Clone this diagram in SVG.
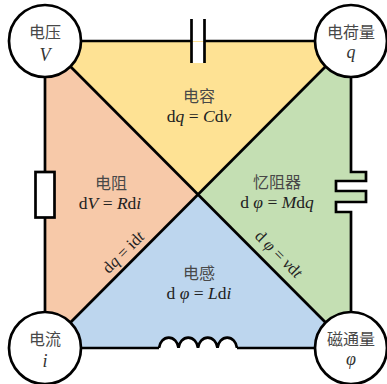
<svg xmlns="http://www.w3.org/2000/svg" width="387" height="384" viewBox="0 0 387 384">
<style>
.l{fill:none;stroke:#000;stroke-width:2.7;stroke-linejoin:miter}
.n{fill:#fff;stroke:#000;stroke-width:2.7}
.c{font-family:"Noto Sans CJK SC",sans-serif;font-size:16px;fill:#484848;text-anchor:middle}
.m{font-family:"Liberation Serif",serif;font-size:17.5px;fill:#222;text-anchor:middle}
.d{font-size:16.5px}
.s{font-size:18px;fill:#333}
.i{font-style:italic}
</style>
<rect width="387" height="384" fill="#fff"/>
<g id="regions">
<polygon points="45,41 351,41 198,195" fill="#fee294"/>
<polygon points="45,41 198,195 45,348" fill="#f7c9a9"/>
<polygon points="45,348 198,195 351,348" fill="#bdd6ee"/>
<polygon points="351,41 351,172 366,172 366,181 336,181 336,191 366,191 366,202 336,202 336,212 351,212 351,348 198,195" fill="#c4dfb3"/>
<rect x="191.500" y="42" width="13" height="21" fill="#fff"/>
</g>
<g id="connectors">
<path class="l" d="M45,41H191.500M191.500,19V63M204.500,19V63M204.500,41H351"/>
<path class="l" d="M45,41V348"/>
<path class="l" d="M351,41V172H366V181H336V191H366V202H336V212H351V348"/>
<path class="l" d="M45,348H159"/>
<path class="l" d="M237,348H351"/>
<path class="l" style="fill:#fff" d="M159,348a9.800,11.500 0 0 1 19.500,0a9.800,11.500 0 0 1 19.500,0a9.800,11.500 0 0 1 19.500,0a9.800,11.500 0 0 1 19.500,0"/>
<line class="l" x1="45" y1="41" x2="351" y2="348"/>
<line class="l" x1="351" y1="41" x2="45" y2="348"/>
</g>
<g id="resistor"><rect class="n" x="35.500" y="172" width="19" height="45.500"/></g>
<g id="node-v"><circle class="n" cx="45" cy="41" r="36"/><text class="c" x="45" y="38">电压</text><text class="m i s" x="45" y="61">V</text></g>
<g id="node-q"><circle class="n" cx="351" cy="41" r="36"/><text class="c" x="351" y="38">电荷量</text><text class="m i s" x="351" y="58">q</text></g>
<g id="node-i"><circle class="n" cx="45" cy="348" r="36"/><text class="c" x="45" y="345">电流</text><text class="m i s" x="45" y="367">i</text></g>
<g id="node-phi"><circle class="n" cx="351" cy="348" r="36"/><text class="c" x="351" y="345">磁通量</text><text class="m i s" x="351" y="365">φ</text></g>
<g id="capacitance"><text class="c" x="199" y="102">电容</text><text class="m" x="199" y="122">d<tspan class="i">q</tspan> = <tspan class="i">C</tspan>d<tspan class="i">v</tspan></text></g>
<g id="resistance"><text class="c" x="111" y="189">电阻</text><text class="m" x="110" y="209">d<tspan class="i">V</tspan> = <tspan class="i">R</tspan>d<tspan class="i">i</tspan></text></g>
<g id="memristance"><text class="c" x="277" y="188">忆阻器</text><text class="m" x="277" y="208">d <tspan class="i">φ</tspan> = <tspan class="i">M</tspan>d<tspan class="i">q</tspan></text></g>
<g id="inductance"><text class="c" x="199" y="279">电感</text><text class="m" x="199" y="299">d <tspan class="i">φ</tspan> = <tspan class="i">L</tspan>d<tspan class="i">i</tspan></text></g>
<text class="m d" transform="translate(127,256) rotate(-45)">d<tspan class="i">q</tspan> = id<tspan class="i">t</tspan></text>
<text class="m d" transform="translate(275,258) rotate(45)">d <tspan class="i">φ</tspan> = <tspan class="i">v</tspan>d<tspan class="i">t</tspan></text>
</svg>
